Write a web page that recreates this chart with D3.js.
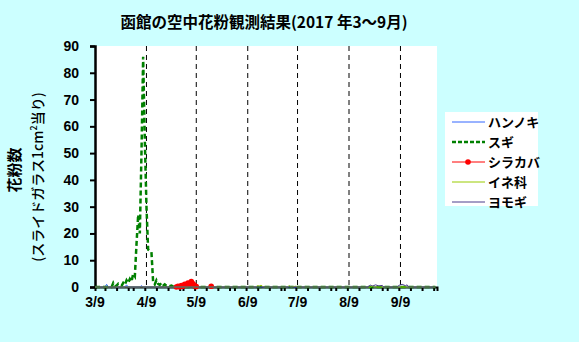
<!DOCTYPE html>
<html>
<head>
<meta charset="utf-8">
<script src="https://cdn.jsdelivr.net/npm/d3@7"></script>
<style>
  body { margin: 0; background: #ccffff; }
  svg { display: block; }
  text { font-family: "Noto Sans CJK JP", sans-serif; fill: #000; }
</style>
</head>
<body>
<svg id="chart" width="579" height="342"></svg>
<script>
// ---- data (month/day in 2017, pollen count per cm2) ----
const monthTicks = ["3/9", "4/9", "5/9", "6/9", "7/9", "8/9", "9/9"];
const yTicks = [0, 10, 20, 30, 40, 50, 60, 70, 80, 90];

const hannoki = [["3/9",0],["3/15",0],["3/16",1],["3/17",0],["3/27",0],["3/28",0.8],["3/29",0],
  ["4/5",0],["4/6",0.5],["4/7",0],["9/30",0]];

const sugi = [["3/9",0],["3/19",0],["3/20",1.5],["3/21",0.3],["3/22",0.5],["3/23",1.2],["3/24",0.6],
  ["3/25",0.4],["3/26",1.5],["3/27",0.8],["3/28",2.5],["3/29",1.5],["3/30",3],["3/31",2],
  ["4/1",5],["4/2",4],["4/3",16],["4/4",27],["4/5",20],["4/6",50],["4/7",86],["4/8",55],
  ["4/9",30],["4/10",14],["4/11",13.5],["4/12",13],["4/13",2],["4/14",1],["4/15",2.5],
  ["4/16",1.2],["4/17",0.8],["4/18",1.5],["4/19",0.5],["4/20",1],["4/21",0.5],["4/22",0.8],
  ["4/23",0.3],["4/24",0.5],["4/25",0.2],["4/26",0],["9/30",0]];

// null = not observed (gap in line)
const shirakaba = [["4/27",0],["4/28",0.3],["4/29",0],["4/30",0.5],["5/1",0.3],["5/2",1],["5/3",0.8],
  ["5/4",1.5],["5/5",1],["5/6",2],["5/7",1.2],["5/8",0.5],["5/9",0.2],["5/10",null],["5/18",0.3]];

const ineka = [["3/9",0],["6/14",0],["6/15",0.5],["6/16",0.3],["6/17",0.7],["6/18",0.2],["6/19",0],
  ["7/3",0],["7/4",0.5],["7/5",0],["7/8",0.3],["7/9",0],["8/22",0],["8/23",0.3],["8/24",0],["9/30",0]];

const yomogi = [["3/9",0],["8/20",0],["8/22",0.7],["8/23",0.3],["8/25",0.8],["8/27",0.4],["8/29",0.6],
  ["8/30",0],["9/7",0],["9/8",0.6],["9/10",1],["9/12",0.5],["9/13",0.8],["9/14",0],["9/30",0]];

const seriesNames = ["ハンノキ", "スギ", "シラカバ", "イネ科", "ヨモギ"];
const seriesData = [hannoki, sugi, shirakaba, ineka, yomogi];
const seriesColors = ["#3366ff", "#008000", "#ff0000", "#99cc00", "#4b3c8c"];

// ---- layout ----
const svg = d3.select("#chart");
const plot = { left: 95, right: 437, top: 46, bottom: 287 };
const toDate = s => { const [m, d] = s.split("/").map(Number); return new Date(2017, m - 1, d); };

const x = d3.scaleTime()
  .domain([new Date(2017, 2, 9), new Date(2017, 9, 1)])
  .range([plot.left, plot.right]);
const y = d3.scaleLinear().domain([0, 90]).range([plot.bottom, plot.top]);

// background + plot area
svg.append("rect").attr("width", 579).attr("height", 342).attr("fill", "#ccffff");
svg.append("rect")
  .attr("x", plot.left).attr("y", plot.top)
  .attr("width", plot.right - plot.left).attr("height", plot.bottom - plot.top)
  .attr("fill", "#fff");

// title
svg.append("text")
  .attr("x", 264).attr("y", 28)
  .attr("text-anchor", "middle")
  .style("font-size", "15.5px").style("font-weight", "bold")
  .text("函館の空中花粉観測結果(2017 年3～9月)");

// monthly dashed lines
svg.append("g").selectAll("line")
  .data(monthTicks.slice(1))
  .join("line")
  .attr("x1", d => x(toDate(d))).attr("x2", d => x(toDate(d)))
  .attr("y1", plot.top).attr("y2", plot.bottom)
  .attr("stroke", "#000").attr("stroke-width", 1)
  .attr("stroke-dasharray", "5,4");

// y axis
const yAxis = svg.append("g")
  .attr("transform", `translate(${plot.left},0)`)
  .call(d3.axisLeft(y).tickValues(yTicks).tickSize(5).tickPadding(11));
yAxis.select(".domain").attr("stroke-width", 2.5);
yAxis.selectAll(".tick line").attr("stroke-width", 2);
yAxis.selectAll("text")
  .style("font-size", "14px").style("font-weight", "bold")
  .style("font-family", "'Liberation Sans', sans-serif");

// x axis: weekly minor ticks, monthly labels
const xAxis = svg.append("g")
  .attr("transform", `translate(0,${plot.bottom})`)
  .call(d3.axisBottom(x)
    .tickValues(d3.timeDay.every(7).range(new Date(2017, 2, 9), new Date(2017, 9, 1)))
    .tickSize(4).tickFormat(""));
xAxis.select(".domain").attr("stroke-width", 2);
xAxis.selectAll(".tick line").attr("stroke-width", 2);

svg.append("g").selectAll("text")
  .data(monthTicks)
  .join("text")
  .attr("x", d => x(toDate(d)))
  .attr("y", 307)
  .attr("text-anchor", "middle")
  .style("font-size", "14px").style("font-weight", "bold")
  .style("font-family", "'Liberation Sans', sans-serif")
  .text(d => d);

// y title
svg.append("g").attr("transform", "translate(20,170) rotate(-90)")
  .append("text")
  .attr("text-anchor", "middle")
  .style("font-size", "15px").style("font-weight", "bold")
  .text("花粉数");
svg.append("g").attr("transform", "translate(43,177) rotate(-90)")
  .append("text")
  .attr("text-anchor", "middle")
  .style("font-size", "14px").style("font-weight", "500")
  .html("(スライドガラス1cm<tspan dy='-6' font-size='9px'>2</tspan><tspan dy='6'>当り)</tspan>");

// series lines
const line = d3.line()
  .defined(d => d[1] !== null)
  .x(d => x(toDate(d[0])))
  .y(d => y(d[1]));

seriesData.forEach((data, i) => {
  const path = svg.append("path")
    .datum(data)
    .attr("fill", "none")
    .attr("stroke", seriesColors[i])
    .attr("stroke-width", i === 1 ? 2.5 : 1)
    .attr("d", line);
  if (i === 1) path.attr("stroke-dasharray", "5,3");
  if (i === 2) {
    svg.append("g").selectAll("circle")
      .data(data.filter(d => d[1] !== null))
      .join("circle")
      .attr("cx", d => x(toDate(d[0])))
      .attr("cy", d => y(d[1]))
      .attr("r", 2.8)
      .attr("fill", seriesColors[i]);
  }
});

// legend
const legend = svg.append("g").attr("transform", "translate(445,112)");
legend.append("rect").attr("width", 93).attr("height", 94).attr("fill", "#fff");
const rows = legend.selectAll("g")
  .data(seriesNames)
  .join("g")
  .attr("transform", (d, i) => `translate(0,${10 + i * 20})`);
rows.append("line")
  .attr("x1", 7).attr("x2", 40)
  .attr("stroke", (d, i) => seriesColors[i])
  .attr("stroke-width", (d, i) => i === 1 ? 2.5 : 1)
  .attr("stroke-dasharray", (d, i) => i === 1 ? "4,2" : null);
rows.filter((d, i) => i === 2).append("circle")
  .attr("cx", 23).attr("r", 2.8).attr("fill", seriesColors[2]);
rows.append("text")
  .attr("x", 43).attr("y", 5)
  .style("font-size", "13px").style("font-weight", "bold")
  .text(d => d);
</script>
</body>
</html>
